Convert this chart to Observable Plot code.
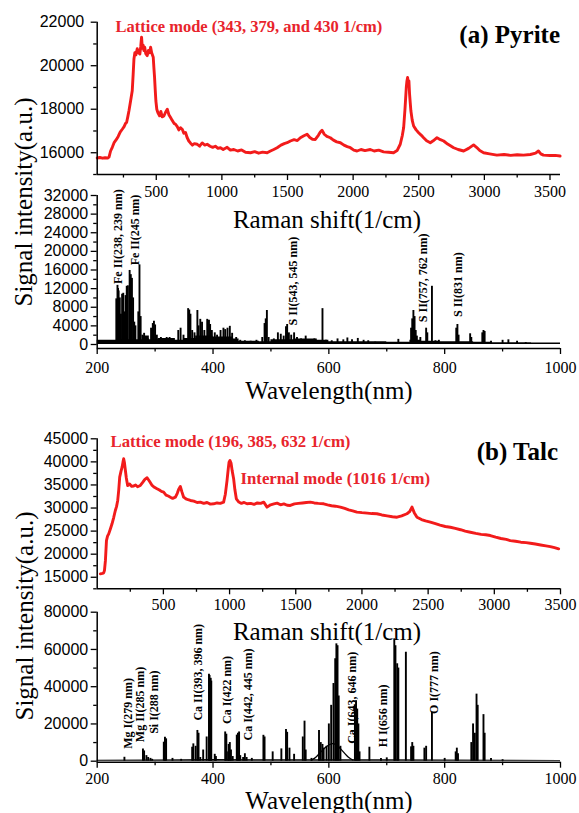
<!DOCTYPE html>
<html><head><meta charset="utf-8">
<script src="https://cdn.jsdelivr.net/npm/d3@7"></script>
<script src="https://cdn.jsdelivr.net/npm/@observablehq/plot@0.6"></script>
<style>
body{margin:0;background:#fff;}
#c{position:relative;width:579px;height:813px;overflow:hidden;background:#fff;}
#c svg{position:absolute;left:0;top:0;}
</style></head><body><div id="c"></div>
<script>
// ---------- DATA ----------
// (a) Pyrite Raman spectrum [Raman shift 1/cm, intensity]
const ramanPyrite = [[50,15760],[70,15780],[90,15750],[110,15770],[130,15760],[140,15800],[152,16080],[165,16250],[180,16480],[195,16600],[210,16750],[225,16950],[241,17080],[255,17200],[266,17350],[274,17390],[283,17650],[292,17930],[305,18400],[317,18850],[324,19600],[330,20310],[337,20600],[345,20500],[355,20780],[365,20600],[375,20540],[382,20900],[388,21310],[394,20800],[400,20950],[406,20700],[412,20850],[420,20550],[431,20460],[440,20700],[449,20600],[457,20850],[465,20600],[477,20390],[482,19900],[487,19460],[492,18900],[497,18390],[504,18000],[512,17850],[525,17700],[535,17900],[545,17650],[558,17690],[570,17850],[584,18000],[596,17750],[609,17620],[620,17500],[635,17350],[647,17310],[660,17200],[672,17050],[685,17150],[698,17080],[710,16900],[723,16930],[735,16700],[748,16540],[760,16450],[775,16350],[790,16420],[812,16390],[830,16300],[850,16450],[870,16350],[888,16390],[910,16300],[930,16250],[950,16300],[970,16200],[989,16230],[1010,16150],[1040,16250],[1065,16120],[1091,16150],[1120,16080],[1150,16130],[1180,16020],[1218,16000],[1250,16050],[1280,15980],[1310,16030],[1345,16000],[1370,16080],[1395,16150],[1421,16230],[1450,16350],[1475,16420],[1497,16460],[1522,16540],[1550,16600],[1575,16560],[1598,16690],[1625,16780],[1649,16850],[1670,16700],[1690,16620],[1712,16610],[1735,16800],[1750,16950],[1763,17030],[1780,16850],[1800,16750],[1826,16690],[1850,16580],[1875,16500],[1903,16460],[1930,16350],[1955,16280],[1979,16230],[2005,16120],[2030,16080],[2060,16150],[2090,16100],[2131,16150],[2160,16080],[2195,16120],[2232,16040],[2270,16020],[2308,16000],[2335,16100],[2359,16390],[2375,16800],[2385,17160],[2395,18000],[2405,19000],[2410,19300],[2415,19460],[2420,19200],[2425,19300],[2430,18690],[2435,18300],[2440,17930],[2450,17500],[2461,17230],[2480,17050],[2499,16920],[2520,16800],[2537,16690],[2560,16550],[2588,16460],[2610,16550],[2639,16690],[2665,16600],[2690,16540],[2720,16400],[2766,16230],[2800,16150],[2842,16080],[2880,16200],[2918,16360],[2940,16250],[2965,16100],[2994,16000],[3040,15950],[3095,15890],[3150,15920],[3200,15880],[3250,15910],[3298,15890],[3350,15920],[3390,15980],[3412,16080],[3430,15950],[3450,15890],[3500,15870],[3540,15880],[3577,15850]];

// (a) Pyrite LIBS: emission lines [wavelength nm, intensity]
const libsPyritePeaks = [[233,9800],[235,12700],[236,12000],[237,11500],[239,10000],[241,6500],[243,10800],[245,11000],[247,7000],[249,10500],[251,12500],[253,12600],[256,15900],[258,15000],[260,14200],[262,10000],[264,4800],[266,4000],[271,7000],[273,17100],[275,6000],[278,2000],[281,2400],[285,1500],[288,1200],[293,3500],[296,4500],[298,5000],[300,4200],[303,2000],[310,1500],[320,1500],[325,1500],[330,1200],[340,3000],[344,3500],[349,2000],[357,7700],[359,7400],[361,6500],[364,3000],[368,2500],[373,7300],[375,4000],[378,5400],[381,4800],[385,3000],[390,5400],[393,5200],[395,4300],[398,3000],[403,2500],[407,2000],[413,3000],[418,3500],[421,3200],[425,3500],[429,3900],[433,2400],[440,1500],[447,900],[455,800],[465,700],[475,900],[485,1500],[489,4500],[491,5500],[493,7300],[496,1500],[505,1200],[512,2500],[517,2200],[522,1800],[526,3800],[528,4300],[531,2500],[535,2000],[540,2500],[545,1500],[552,1200],[560,1800],[568,1000],[575,1200],[589,7700],[595,900],[605,800],[615,1200],[625,1000],[632,1400],[640,1000],[650,1300],[660,900],[668,800],[680,500],[720,1100],[742,3500],[744,5500],[746,7300],[748,6000],[750,3000],[752,1800],[758,1500],[768,3500],[770,2500],[778,12500],[784,800],[790,900],[820,3500],[822,4300],[824,2000],[844,2300],[846,1500],[865,2500],[867,3000],[869,2800],[880,700],[900,900],[910,1000],[925,700],[940,400]];
// (a) Pyrite LIBS continuum floor [wavelength nm, intensity]
const libsPyriteFloor = [[200,900],[234,1000],[280,1800],[290,1000],[305,1300],[335,900],[350,1300],[370,1800],[400,1600],[435,1200],[445,700],[480,600],[500,1000],[540,1200],[580,900],[600,600],[700,500],[740,900],[760,700],[790,600],[850,500],[880,400],[950,300],[1000,300]];
// (a) line labels
const labelPyriteText = ["Fe II(238, 239 nm)","Fe II(245 nm)","S II(543, 545 nm)","S II(757, 762 nm)","S II(831 nm)"];
const labelPyriteX = [236,265,539,763,824];
const labelPyriteY = [13000,17000,4100,4800,5900];

// (b) Talc Raman spectrum [Raman shift 1/cm, intensity]
const ramanTalc = [[24,15730],[40,15850],[49,15950],[55,16500],[62,18600],[70,22950],[78,23900],[87,24400],[100,25500],[112,26580],[125,28000],[137,29470],[146,30300],[155,31640],[163,34000],[170,36700],[180,38000],[188,38860],[195,40000],[200,40680],[206,39800],[213,38140],[220,36500],[230,34890],[245,35200],[260,34700],[276,34780],[290,35000],[305,34600],[326,34890],[345,35600],[360,36200],[377,36560],[395,35800],[415,34890],[432,34500],[452,34170],[470,33900],[485,33600],[502,33440],[520,32800],[537,32600],[553,32350],[570,32100],[591,32350],[605,33200],[615,34000],[628,34670],[640,33500],[653,32350],[670,32000],[687,31800],[704,31640],[730,31500],[755,31200],[779,31280],[805,31000],[830,31200],[855,30850],[880,30920],[905,31100],[930,31000],[955,31280],[968,33000],[981,36000],[990,38500],[996,39950],[1003,40300],[1011,39740],[1020,38000],[1031,36280],[1040,34000],[1051,32000],[1070,31300],[1090,31000],[1110,31200],[1132,30920],[1160,31000],[1185,30800],[1210,31100],[1235,31000],[1258,31280],[1283,30200],[1310,30700],[1335,30900],[1359,31060],[1385,30700],[1410,30900],[1435,30600],[1459,30560],[1490,30900],[1520,31000],[1550,31100],[1580,31200],[1610,31280],[1640,31100],[1670,31000],[1711,30920],[1740,30700],[1770,30500],[1800,30400],[1837,30200],[1870,29900],[1900,29600],[1930,29400],[1962,29120],[2000,29000],[2040,28900],[2075,28800],[2113,28760],[2150,28500],[2190,28300],[2230,28100],[2265,28010],[2300,28300],[2340,28760],[2360,29200],[2378,30200],[2395,29000],[2416,28010],[2450,27500],[2480,27200],[2517,26930],[2555,26600],[2590,26300],[2630,26000],[2668,25840],[2705,25600],[2745,25300],[2780,25000],[2819,24760],[2860,24500],[2900,24300],[2935,24200],[2970,24040],[3010,23700],[3050,23400],[3090,23200],[3121,22950],[3160,22800],[3200,22600],[3240,22500],[3272,22370],[3310,22200],[3350,22000],[3390,21800],[3423,21650],[3455,21400],[3486,21150]];

// (b) Talc LIBS: emission lines [wavelength nm, intensity]
const libsTalcPeaks = [[247,2100],[279,6600],[281,5500],[285,3000],[288,2000],[292,1500],[295,1000],[315,10200],[317,12900],[319,12000],[330,1500],[345,1000],[364,7500],[366,9300],[370,8000],[373,16500],[375,15000],[378,2000],[383,6000],[389,13000],[393,46700],[394,46000],[396,44500],[397,43000],[403,3700],[405,2500],[421,15700],[423,14500],[426,5000],[427,9000],[429,10000],[431,6000],[434,2500],[441,14000],[443,15000],[445,15700],[447,3000],[452,2000],[455,4000],[458,2000],[467,1500],[487,13900],[489,13000],[503,5000],[518,6600],[526,17000],[528,15500],[532,7000],[540,3700],[555,13000],[558,21500],[560,6000],[570,1500],[583,16500],[586,10000],[589,9000],[591,7000],[596,8000],[600,20000],[604,30000],[608,41700],[611,55000],[613,63000],[615,62000],[617,35000],[620,8000],[645,30000],[647,32500],[649,28000],[651,20000],[653,5000],[670,7500],[690,1500],[700,1800],[713,65700],[715,62000],[718,52300],[720,50000],[733,58500],[742,7700],[744,10000],[746,8000],[765,7000],[768,8000],[778,26300],[800,1500],[819,5000],[821,7000],[823,4000],[846,10000],[849,20000],[852,15000],[855,36000],[857,30000],[867,25000],[869,15000],[880,1500],[900,800]];
// (b) Talc LIBS broad molecular band (thin outline)
const libsTalcBand = [[570,600],[578,2000],[586,5000],[596,8000],[606,10000],[615,8500],[625,5000],[635,1500],[642,600]];
// (b) Talc LIBS continuum floor
const libsTalcFloor = [[200,500],[300,700],[400,900],[500,800],[700,800],[900,500],[1000,400]];
// (b) line labels
const labelTalcText = ["Mg I(279 nm)","Mg II(285 nm)","Si I(288 nm)","Ca II(393, 396 nm)","Ca I(422 nm)","Ca I(442, 445 nm)","Ca I(643, 646 nm)","H I(656 nm)","O I(777 nm)"];
const labelTalcX = [254,275,298,374,424,460,640,693,782];
const labelTalcY = [6700,10200,14700,21800,20000,11100,9300,7500,25400];

// ticks
const ramanPyriteXTicks = [500,1000,1500,2000,2500,3000,3500];
const ramanPyriteXMinor = [250,750,1250,1750,2250,2750,3250];
const ramanPyriteYTicks = [16000,18000,20000,22000];
const ramanPyriteYMinor = [15000,17000,19000,21000];
const libsPyriteYTicks = [0,4000,8000,12000,16000,20000,24000,28000,32000];
const libsPyriteYMinor = [2000,6000,10000,14000,18000,22000,26000,30000];
const libsXTicks = [200,400,600,800,1000];
const libsXMinor = [300,500,700,900];
const ramanTalcXTicks = [500,1000,1500,2000,2500,3000,3500];
const ramanTalcXMinor = [250,750,1250,1750,2250,2750,3250];
const ramanTalcYTicks = [15000,20000,25000,30000,35000,40000,45000];
const ramanTalcYMinor = [12500,17500,22500,27500,32500,37500,42500];
const libsTalcYTicks = [0,20000,40000,60000,80000];
const libsTalcYMinor = [10000,30000,50000,70000];

// ---------- RENDER ----------
const serif = "'Liberation Serif', 'Times New Roman', serif";
const sans = "'Liberation Sans', Arial, sans-serif";
const RED = "#f21b1b";
const RED_TXT = "#e8242c";
const W = 579, H = 813, ML = 96.7, MR = 19;

function axes(o) {
  return [
    Plot.axisX({ticks: o.xTicks, tickSize: 6, tickPadding: o.xPad, fontSize: 16, fontFamily: serif, strokeWidth: 1.3, label: null, tickFormat: d => String(d)}),
    Plot.axisX({ticks: o.xMinor, tickSize: 3.5, strokeWidth: 1.3, label: null, tickFormat: () => ""}),
    Plot.axisY({ticks: o.yTicks, tickSize: 6, tickPadding: o.yPad, fontSize: 16, fontFamily: sans, strokeWidth: 1.3, label: null, tickFormat: d => String(d)}),
    Plot.axisY({ticks: o.yMinor, tickSize: 3.5, strokeWidth: 1.3, label: null, tickFormat: () => ""}),
    Plot.ruleX([o.x0], {strokeWidth: 1.5}),
    Plot.ruleY([o.y0], {strokeWidth: 1.5})
  ];
}

function panel(top, bottom, xDomain, yDomain, marks) {
  return Plot.plot({
    width: W, height: H,
    marginLeft: ML, marginRight: MR, marginTop: top, marginBottom: H - bottom,
    x: {domain: xDomain, label: null},
    y: {domain: yDomain, label: null},
    style: {background: "transparent", overflow: "visible", color: "black", fontFamily: serif},
    marks
  });
}

const c = document.getElementById("c");

// (a) Raman
c.append(panel(21.7, 174, [50, 3580], [15000, 22000], [
  Plot.line(ramanPyrite, {x: d => d[0], y: d => d[1], stroke: RED, strokeWidth: 2.9}),
  Plot.text(["Lattice mode (343, 379, and 430 1/cm)"], {x: 190, y: 21780, text: d => d, textAnchor: "start", fill: RED_TXT, fontSize: 16.5, fontWeight: "bold", fontFamily: serif}),
  ...axes({xTicks: ramanPyriteXTicks, xMinor: ramanPyriteXMinor, yTicks: ramanPyriteYTicks, yMinor: ramanPyriteYMinor, xPad: 5, yPad: 7, x0: 50, y0: 15000})
]));

// (a) LIBS
c.append(panel(195, 348, [200, 1000], [-860, 32000], [
  Plot.areaY(libsPyriteFloor, {x: d => d[0], y: d => d[1], curve: "step-after", fill: "black"}),
  Plot.ruleX(libsPyritePeaks, {x: d => d[0], y1: 0, y2: d => d[1], stroke: "black", strokeWidth: 1.9}),
  Plot.text(labelPyriteText, {x: (d, i) => labelPyriteX[i], y: (d, i) => labelPyriteY[i], text: d => d, rotate: -90, textAnchor: "start", fontSize: 12, fontWeight: "bold", fontFamily: serif, fill: "black"}),
  ...axes({xTicks: libsXTicks, xMinor: libsXMinor, yTicks: libsPyriteYTicks, yMinor: libsPyriteYMinor, xPad: 7, yPad: 3, x0: 200, y0: -860})
]));

// (b) Raman
c.append(panel(438.3, 588.3, [0, 3500], [12500, 45000], [
  Plot.line(ramanTalc, {x: d => d[0], y: d => d[1], stroke: RED, strokeWidth: 2.9}),
  Plot.text(["Lattice mode (196, 385, 632 1/cm)"], {x: 100, y: 44400, text: d => d, textAnchor: "start", fill: RED_TXT, fontSize: 16.8, fontWeight: "bold", fontFamily: serif}),
  Plot.text(["Internal mode (1016 1/cm)"], {x: 1082, y: 36400, text: d => d, textAnchor: "start", fill: RED_TXT, fontSize: 16.8, fontWeight: "bold", fontFamily: serif}),
  ...axes({xTicks: ramanTalcXTicks, xMinor: ramanTalcXMinor, yTicks: ramanTalcYTicks, yMinor: ramanTalcYMinor, xPad: 4, yPad: 3, x0: 0, y0: 12500})
]));

// (b) LIBS
c.append(panel(611.7, 761.7, [200, 1000], [-540, 80000], [
  Plot.areaY(libsTalcFloor, {x: d => d[0], y: d => d[1], fill: "black"}),
  Plot.line(libsTalcBand, {x: d => d[0], y: d => d[1], stroke: "black", strokeWidth: 1.3, curve: "basis"}),
  Plot.ruleX(libsTalcPeaks, {x: d => d[0], y1: 0, y2: d => d[1], stroke: "black", strokeWidth: 1.9}),
  Plot.text(labelTalcText, {x: (d, i) => labelTalcX[i], y: (d, i) => labelTalcY[i], text: d => d, rotate: -90, textAnchor: "start", fontSize: 12, fontWeight: "bold", fontFamily: serif, fill: "black"}),
  ...axes({xTicks: libsXTicks, xMinor: libsXMinor, yTicks: libsTalcYTicks, yMinor: libsTalcYMinor, xPad: 4, yPad: 3, x0: 200, y0: -540})
]));

// titles overlay
const svg = d3.select(c).append("svg").attr("width", W).attr("height", H).style("font-family", serif);
const t = (x, y, s, size, weight, anchor, rot) => {
  const e = svg.append("text").attr("x", x).attr("y", y).attr("font-size", size).attr("font-weight", weight).attr("text-anchor", anchor).attr("fill", "black").text(s);
  if (rot) e.attr("transform", `rotate(${rot},${x},${y})`);
  return e;
};
t(560, 43, "(a) Pyrite", 25, "bold", "end");
t(558, 460, "(b) Talc", 25, "bold", "end");
t(327, 228, "Raman shift(1/cm)", 25, "normal", "middle");
t(327, 640, "Raman shift(1/cm)", 25, "normal", "middle");
t(329, 399, "Wavelength(nm)", 25, "normal", "middle");
t(329, 809, "Wavelength(nm)", 25, "normal", "middle");
t(32, 202, "Signal intensity(a.u.)", 25, "normal", "middle", -90);
t(33, 616, "Signal intensity(a.u.)", 25, "normal", "middle", -90);
</script></body></html>
